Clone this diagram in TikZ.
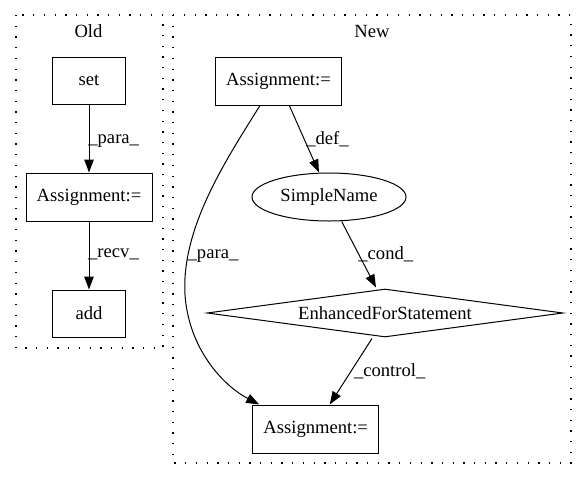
\documentclass[tikz,border=0pt]{standalone}
\usepackage{fontspec}
\setmainfont{Liberation Serif}
\usetikzlibrary{shapes.geometric,arrows.meta}
\begin{document}
\begin{tikzpicture}[x=1pt,y=-1pt,
  every node/.style={font=\fontsize{18.6}{20}\selectfont, inner sep=0pt},
  box/.style={draw, line width=1pt, minimum height=48pt},
  ell/.style={draw, line width=1pt, ellipse, minimum width=154pt, minimum height=48pt},
  dia/.style={draw, line width=1pt, diamond, shape aspect=7.4, minimum width=356pt, minimum height=48pt},
  cluster/.style={draw, line width=1.2pt, dash pattern=on 1.3pt off 9.4pt},
  edge/.style={draw, line width=1pt, -{Triangle[length=13pt,width=9.5pt]}},
  elabel/.style={anchor=center}
]
\useasboundingbox[fill=white] (0,0) rectangle (587,480);
% clusters
\draw[cluster] (16,15) rectangle (163,348);
\draw[cluster] (173,15) rectangle (571,463);
\node (oldlbl) at (88.5,31) {Old};
\node (newlbl) at (372,31) {New};
% Old nodes
\node[box, minimum width=73pt, minimum height=47pt] (set) at (89,80.5) {set};
\node[box, minimum width=126pt] (oa) at (89,197) {Assignment:=};
\node[box, minimum width=73pt, minimum height=47pt] (add) at (89,313.5) {add};
% New nodes
\node[box, minimum width=126pt] (ta) at (278.5,81) {Assignment:=};
\node[ell] (sn) at (329,197) {SimpleName};
\node[dia] (fs) at (385,313) {EnhancedForStatement};
\node[box, minimum width=126pt] (ba) at (315.7,429) {Assignment:=};
% Old edges
\draw[edge] (set.south) -- (oa.north);
\node[elabel] (l1) at (113.7,141) {\_para\_};
\draw[edge] (oa.south) -- (add.north);
\node[elabel] (l2) at (113.5,254) {\_recv\_};
% New edges
\draw[edge] ([xshift=10.8pt]ta.south) -- ([xshift=-10pt]sn.north);
\node[elabel] (l3) at (327.5,139) {\_def\_};
\draw[edge] ([xshift=-18.5pt]ta.south) .. controls (226,160) and (181,228) .. (185,295)
   .. controls (189,350) and (224,386) .. ([xshift=7pt]ba.north west);
\node[elabel] (l4) at (213,256) {\_para\_};
\draw[edge] ([xshift=12.7pt]sn.south) -- ([xshift=-9pt,yshift=1pt]fs.north);
\node[elabel] (l5) at (385.8,254) {\_cond\_};
\draw[edge] ([xshift=-13pt,yshift=-1pt]fs.south) -- ([xshift=14pt]ba.north);
\node[elabel] (l6) at (389.7,371) {\_control\_};
\end{tikzpicture}
\end{document}
